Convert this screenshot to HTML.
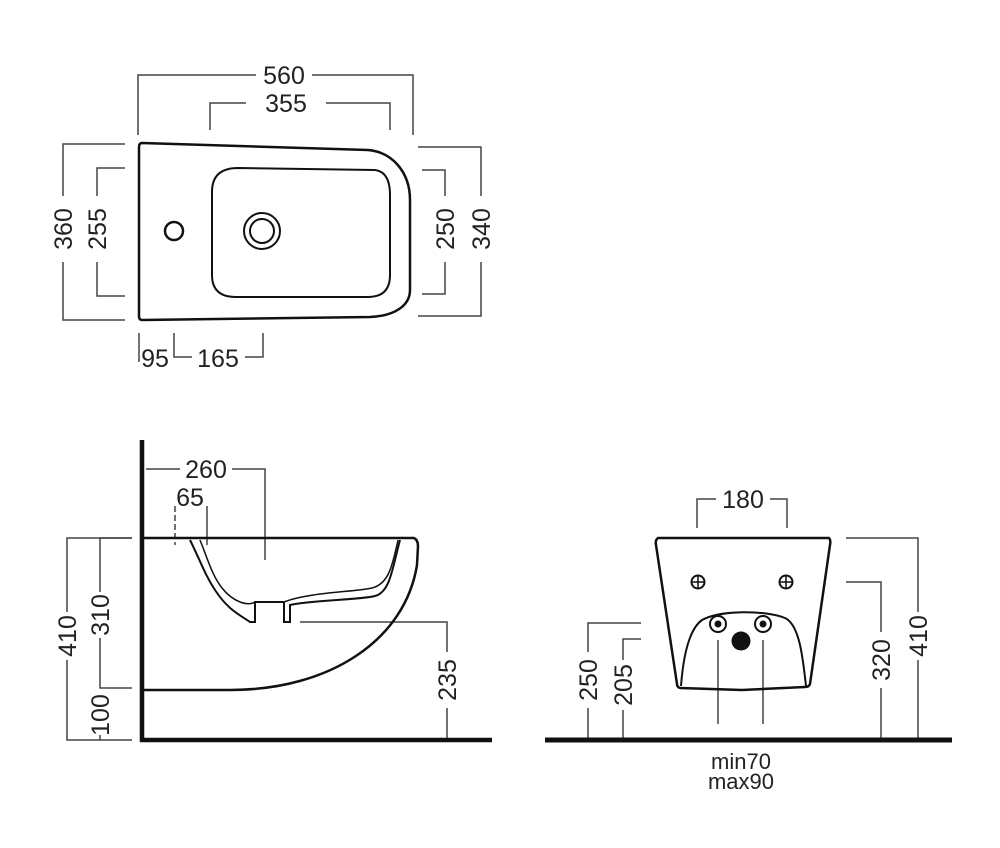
<!DOCTYPE html>
<html><head><meta charset="utf-8"><style>
html,body{margin:0;padding:0;background:#fff}
svg text{font-family:"Liberation Sans",Arial,sans-serif;font-size:25px;fill:#222}
</style></head><body>
<svg width="1000" height="843" viewBox="0 0 1000 843" xmlns="http://www.w3.org/2000/svg">
<g fill="none" stroke="#444" stroke-width="1.5">
<polyline points="138,135 138,75 256,75"/><polyline points="312,75 413,75 413,135"/>
<polyline points="210,130 210,103 246,103"/><polyline points="326,103 390,103 390,130"/>
<polyline points="125,144 63,144 63,196"/><polyline points="63,262 63,320 125,320"/>
<polyline points="125,168 97,168 97,196"/><polyline points="97,262 97,296 125,296"/>
<polyline points="418,147 481,147 481,196"/><polyline points="481,262 481,316 418,316"/>
<polyline points="422,170 445,170 445,196"/><polyline points="445,262 445,294 422,294"/>
<line x1="139" y1="333" x2="139" y2="362"/>
<polyline points="174,333 174,357 192,357"/>
<polyline points="245,357 263,357 263,333"/>
<polyline points="146,469 180,469"/><polyline points="232,469 265,469 265,560"/>
<line x1="175" y1="506" x2="175" y2="545" stroke-dasharray="6,3"/>
<line x1="207" y1="506" x2="207" y2="545"/>
<polyline points="132,538 67,538 67,612"/><polyline points="67,660 67,740 132,740"/>
<polyline points="132,538 100,538 100,592"/><polyline points="100,638 100,688 132,688"/>
<line x1="100" y1="735" x2="100" y2="740"/>
<polyline points="300,622 447,622 447,652"/><line x1="447" y1="708" x2="447" y2="740"/>
<polyline points="697,528 697,499 716,499"/><polyline points="770,499 787,499 787,528"/>
<polyline points="846,538 918,538 918,612"/><line x1="918" y1="660" x2="918" y2="740"/>
<polyline points="846,582 881,582 881,632"/><line x1="881" y1="688" x2="881" y2="740"/>
<polyline points="641,623 588,623 588,652"/><line x1="588" y1="708" x2="588" y2="740"/>
<polyline points="641,639 623,639 623,660"/><line x1="623" y1="710" x2="623" y2="740"/>
<line x1="718" y1="640" x2="718" y2="724"/><line x1="763" y1="640" x2="763" y2="724"/>
</g>
<g fill="none" stroke="#111" stroke-width="2.5">
<path d="M142,143 L368,150 C392,152 410,172 410,200 L410,290 C410,306 394,316 370,317 L142,320 Q139,320 139,316 L139,147 Q139,143 142,143Z"/>
<path d="M238,168 L375,170 Q390,172 390,195 L390,275 Q390,297 368,297 L236,297 Q212,297 212,275 L212,192 Q212,168 238,168Z" stroke-width="2"/>
<circle cx="262" cy="231" r="18" stroke-width="2"/><circle cx="262" cy="231" r="12" stroke-width="2"/>
<circle cx="174" cy="231" r="9" stroke-width="2.5"/>
<line x1="142" y1="440" x2="142" y2="742" stroke-width="4.5"/>
<line x1="140" y1="740" x2="492" y2="740" stroke-width="4.5"/>
<path d="M144,538 L414,538 Q418,540 418,546 L417,565 C405,640 330,690 230,690 L144,690" stroke-width="2.5"/>
<path d="M190,540 C200,560 205,575 215,590 C228,610 240,615 250,622 L255,622 L255,602 L284,602 L284,622 L290,622 L290,605 C310,600 360,600 375,596 C390,592 392,570 400,540" stroke-width="2"/>
<path d="M200,540 C208,560 212,575 222,588 C234,603 248,606 255,602" stroke-width="1.5"/>
<path d="M398,540 C392,568 388,584 372,588 C355,592 310,592 284,602" stroke-width="1.5"/>
<line x1="545" y1="740" x2="952" y2="740" stroke-width="5"/>
<path d="M658,538 L829,538 Q831,540 830,545 L810,684 Q809,687 805,687 L742,690 L680,688 Q677,687 677,684 L656,545 Q655,540 658,538Z" stroke-width="2.5"/>
<path d="M681,686 C683,660 688,630 702,620 C720,610 765,610 785,618 C800,625 803,660 806,686" stroke-width="2"/>
<circle cx="698" cy="582" r="6.5" stroke-width="2"/><circle cx="786" cy="582" r="6.5" stroke-width="2"/>
<path d="M692,582h12M698,576v12M780,582h12M786,576v12" stroke-width="1.5"/>
<circle cx="718" cy="624" r="8" stroke-width="2"/><circle cx="763" cy="624" r="8" stroke-width="2"/>
</g>
<circle cx="718" cy="624" r="3.5" fill="#111"/><circle cx="763" cy="624" r="3.5" fill="#111"/>
<circle cx="741" cy="641" r="9.5" fill="#111"/>
<g>
<text x="284" y="84" text-anchor="middle">560</text>
<text x="286" y="112" text-anchor="middle">355</text>
<text x="155" y="367" text-anchor="middle">95</text>
<text x="218" y="367" text-anchor="middle">165</text>
<text transform="translate(72,229) rotate(-90)" text-anchor="middle">360</text>
<text transform="translate(106,229) rotate(-90)" text-anchor="middle">255</text>
<text transform="translate(454,229) rotate(-90)" text-anchor="middle">250</text>
<text transform="translate(490,229) rotate(-90)" text-anchor="middle">340</text>
<text x="206" y="478" text-anchor="middle">260</text>
<text x="190" y="506" text-anchor="middle">65</text>
<text transform="translate(76,636) rotate(-90)" text-anchor="middle">410</text>
<text transform="translate(109,615) rotate(-90)" text-anchor="middle">310</text>
<text transform="translate(109,715) rotate(-90)" text-anchor="middle">100</text>
<text transform="translate(456,680) rotate(-90)" text-anchor="middle">235</text>
<text x="743" y="508" text-anchor="middle">180</text>
<text transform="translate(927,636) rotate(-90)" text-anchor="middle">410</text>
<text transform="translate(890,660) rotate(-90)" text-anchor="middle">320</text>
<text transform="translate(597,680) rotate(-90)" text-anchor="middle">250</text>
<text transform="translate(632,685) rotate(-90)" text-anchor="middle">205</text>
<text x="741" y="769" text-anchor="middle" style="font-size:22px">min70</text>
<text x="741" y="789" text-anchor="middle" style="font-size:22px">max90</text>
</g>
</svg>
</body></html>
